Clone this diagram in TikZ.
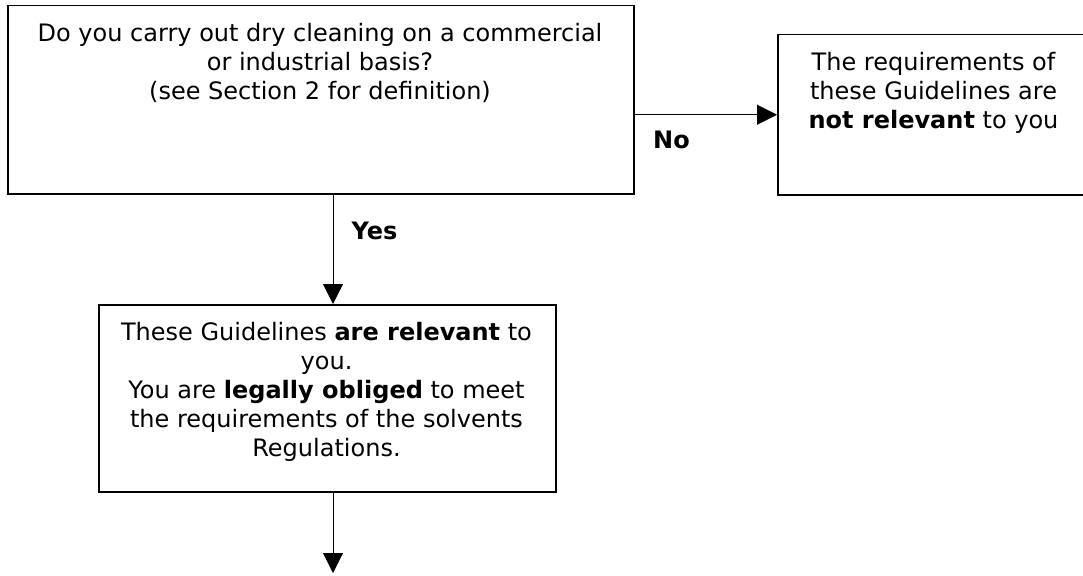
\documentclass[tikz,border=0pt]{standalone}
\usepackage{fontspec}
\setmainfont{DejaVu Sans}
\usetikzlibrary{arrows.meta}
\usetikzlibrary{positioning}

\begin{document}
\begin{tikzpicture}[>={Triangle[length=20pt,width=20pt]},x=1pt,y=1pt,
    flowbox/.style={draw,line width=1.5pt,anchor=north west,inner sep=0pt},
    boxtext/.style={anchor=north,align=center,inner sep=0pt,font=\fontsize{24}{29}\selectfont},
    lbl/.style={anchor=base,inner sep=0pt,font=\fontsize{24}{29}\selectfont\bfseries}]
    \useasboundingbox (0,0) rectangle (1083,-575);
    \node[flowbox,minimum width=626pt,minimum height=188pt] (q1) at (7,-5) {};
    \node[flowbox,minimum width=330pt,minimum height=160pt] (q2) at (777,-34) {};
    \node[flowbox,minimum width=457pt,minimum height=187pt] (q3) at (98,-304) {};
    \node[boxtext] (q1text) at (320,-23) {Do you carry out dry cleaning on a commercial\\or industrial basis?\\(see Section 2 for definition)};
    \node[boxtext] (q2text) at (933.5,-52) {The requirements of\\these Guidelines are\\\textbf{not relevant} to you};
    \node[boxtext] (q3text) at (326.5,-322) {These Guidelines \textbf{are relevant} to\\you.\\You are \textbf{legally obliged} to meet\\the requirements of the solvents\\Regulations.};
    \coordinate (yesx) at (333,0);
    \coordinate (next) at (333,-573);
    \draw[->,line width=1pt] (q1.east |- q2.west) -- (q2.west);
    \draw[->,line width=1pt] (q1.south -| yesx) -- (q3.north -| yesx);
    \draw[->,line width=1pt] (q3.south -| yesx) -- (next);
    \node[lbl] (nolbl) at (671.5,-148) {No};
    \node[lbl] (yeslbl) at (374.5,-239) {Yes};
\end{tikzpicture}
\end{document}
